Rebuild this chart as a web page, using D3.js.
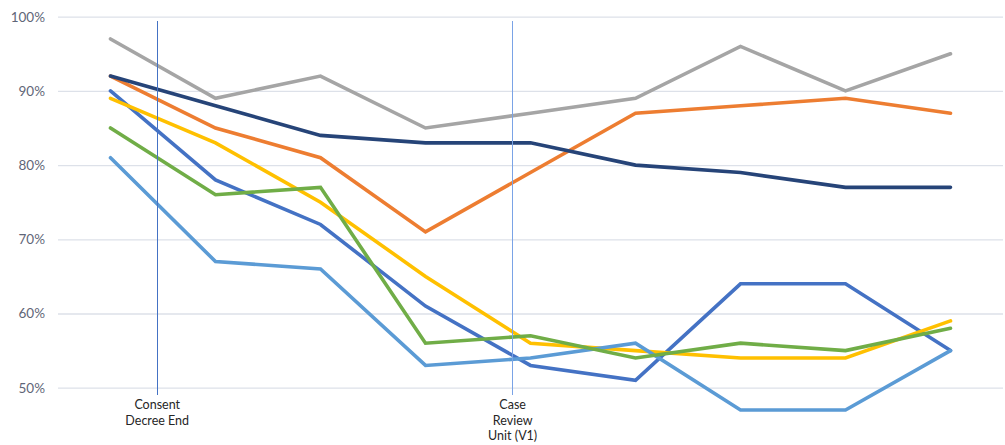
<!DOCTYPE html>
<html>
<head>
<meta charset="utf-8">
<script src="https://cdn.jsdelivr.net/npm/d3@7"></script>
<style>
  html, body { margin: 0; padding: 0; background: #fff; }
  svg { display: block; font-family: Lato, "Liberation Sans", sans-serif; }
</style>
</head>
<body>
<svg id="chart" width="1005" height="445"></svg>
<script>
// Nine reporting periods (unlabelled on the axis)
const periods = ["P1", "P2", "P3", "P4", "P5", "P6", "P7", "P8", "P9"];

// Percentage values per series, one entry per period
const seriesBlue      = [0.90, 0.78, 0.72, 0.61, 0.53, 0.51, 0.64, 0.64, 0.55];
const seriesOrange    = [0.92, 0.85, 0.81, 0.71, 0.79, 0.87, 0.88, 0.89, 0.87];
const seriesGray      = [0.97, 0.89, 0.92, 0.85, 0.87, 0.89, 0.96, 0.90, 0.95];
const seriesYellow    = [0.89, 0.83, 0.75, 0.65, 0.56, 0.55, 0.54, 0.54, 0.59];
const seriesLightBlue = [0.81, 0.67, 0.66, 0.53, 0.54, 0.56, 0.47, 0.47, 0.55];
const seriesGreen     = [0.85, 0.76, 0.77, 0.56, 0.57, 0.54, 0.56, 0.55, 0.58];
const seriesNavy      = [0.92, 0.88, 0.84, 0.83, 0.83, 0.80, 0.79, 0.77, 0.77];

const seriesList = [seriesBlue, seriesOrange, seriesGray, seriesYellow, seriesLightBlue, seriesGreen, seriesNavy];
const seriesColors = ["#4472C4", "#ED7D31", "#A5A5A5", "#FFC000", "#5B9BD5", "#70AD47", "#264478"];

// Y-axis ticks
const yTicks = [0.5, 0.6, 0.7, 0.8, 0.9, 1.0];

// Event markers, placed at fractional period indices
const markerPositions = [0.445, 3.83];
const markerLabels = [["Consent", "Decree End"], ["Case", "Review", "Unit (V1)"]];
const markerColors = ["#4472C4", "#7AA3E6"];

const svg = d3.select("#chart");
const plotLeft = 58, plotRight = 1003, plotTop = 16.7, plotBottom = 387.7;

const x = d3.scaleBand().domain(periods).range([plotLeft, plotRight]).padding(0);
const xc = i => x(periods[i]) + x.bandwidth() / 2;
const xFrac = d3.scaleLinear().domain([0, periods.length - 1]).range([xc(0), xc(periods.length - 1)]);
const y = d3.scaleLinear().domain([0.5, 1.0]).range([plotBottom, plotTop]);

// Horizontal gridlines and percentage labels
const yAxis = d3.axisLeft(y)
  .tickValues(yTicks)
  .tickFormat(d3.format(".0%"))
  .tickSize(-(plotRight - plotLeft))
  .tickPadding(13);

const gy = svg.append("g").attr("transform", `translate(${plotLeft},0)`).call(yAxis);
gy.select(".domain").remove();
gy.selectAll(".tick line").attr("stroke", "#DDE1E9").attr("stroke-width", 1.3);
gy.selectAll(".tick text")
  .attr("fill", "#5F6678")
  .attr("font-size", 13.5)
  .attr("font-family", "Lato, sans-serif");

// Series lines
const line = d3.line()
  .x((d, i) => xc(i))
  .y(d => y(d))
  .curve(d3.curveLinear);

svg.append("g")
  .selectAll("path")
  .data(seriesList)
  .join("path")
  .attr("d", d => line(d))
  .attr("fill", "none")
  .attr("stroke", (d, i) => seriesColors[i])
  .attr("stroke-width", 3.6)
  .attr("stroke-linejoin", "miter")
  .attr("stroke-linecap", "round");

// Event marker lines and their captions
const markers = svg.append("g");
markerPositions.forEach((p, i) => {
  const mx = xFrac(p);
  const px = Math.floor(mx) + 0.5;
  markers.append("line")
    .attr("x1", px).attr("x2", px)
    .attr("y1", 21).attr("y2", 395)
    .attr("stroke", markerColors[i])
    .attr("stroke-width", 1);
  const t = markers.append("text")
    .attr("text-anchor", "middle")
    .attr("font-size", 12.5)
    .attr("fill", "#262626");
  markerLabels[i].forEach((s, k) => {
    t.append("tspan").attr("x", mx).attr("y", 409 + k * 15.5).text(s);
  });
});
</script>
</body>
</html>
